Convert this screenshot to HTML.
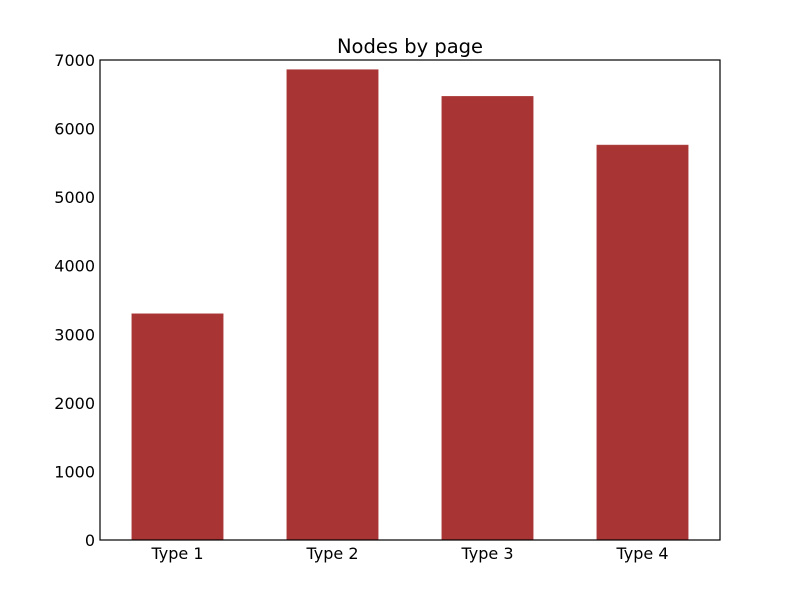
<!DOCTYPE html>
<html><head><meta charset="utf-8"><style>
body{margin:0;background:#fff;}
svg{display:block;font-family:"DejaVu Sans","Liberation Sans",sans-serif;}
</style></head><body>
<svg id="chart" width="800" height="600">
<rect width="800" height="600" fill="#fff"/>
<text x="410" y="53" text-anchor="middle" font-size="19.5">Nodes by page</text>
<g id="bars"></g>
<g id="axes"></g>
<rect x="100" y="60" width="620" height="480" fill="none" stroke="#000" stroke-width="1.2"/>
</svg>
<script>
const categories = ["Type 1","Type 2","Type 3","Type 4"];
const values = [3300, 6860, 6470, 5760];
const yTicks = [0,1000,2000,3000,4000,5000,6000,7000];
const X0=100,X1=720,Y0=540,Y1=60,YMAX=7000;
const ns="http://www.w3.org/2000/svg";
function xs(i){return X0+(i+0.5)*(X1-X0)/categories.length;}
function ys(v){return Y0-(v/YMAX)*(Y0-Y1);}
const unit=(X1-X0)/categories.length, bw=unit*0.59;
const bars=document.getElementById('bars'), axes=document.getElementById('axes');
function mk(tag,attrs,parent){const e=document.createElementNS(ns,tag);for(const k in attrs)e.setAttribute(k,attrs[k]);parent.appendChild(e);return e;}
values.forEach((v,i)=>{
  const r=mk('rect',{x:xs(i)-bw/2,y:ys(v),width:bw,height:Y0-ys(v),fill:'#a93434',stroke:'#b04848','stroke-width':0.5},bars);
  
  
  const t=mk('text',{x:xs(i),y:559,'text-anchor':'middle','font-size':16},axes);
  t.textContent=categories[i];
  
  
});
yTicks.forEach(v=>{
  const y=ys(v);
  const t=mk('text',{x:95,y:y+6,'text-anchor':'end','font-size':16},axes);
  t.textContent=v;
  
  
});
</script>
</body></html>
